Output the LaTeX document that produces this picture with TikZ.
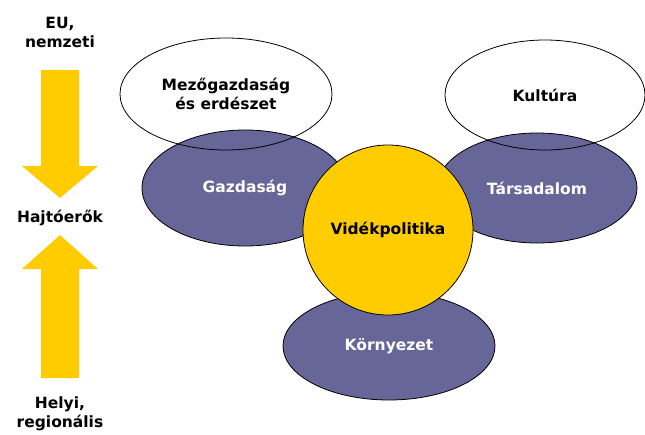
\documentclass[tikz,border=0pt]{standalone}
\usepackage{fontspec}
\setmainfont{DejaVu Sans}
\usetikzlibrary{shapes.geometric}

\definecolor{lila}{RGB}{102,102,153}
\definecolor{sarga}{RGB}{255,204,0}

\begin{document}
\begin{tikzpicture}[x=1pt,y=-1pt,
  every node/.style={font=\fontsize{15.5}{19}\selectfont\bfseries,align=center},
  tereny/.style={ellipse,draw,line width=0.8pt,fill=lila,text=white,inner sep=0pt},
  agazat/.style={ellipse,draw,line width=0.8pt,inner sep=0pt},
  nyil/.style={fill=sarga,draw=none}]
			\useasboundingbox (0,0) rectangle (645,434);
			
			% purple areas
			\node[tereny,minimum width=206pt,minimum height=116pt] (gazd) at (245,188) {Gazdaság};
			\node[tereny,minimum width=200pt,minimum height=110pt] (tars) at (537,188) {Társadalom};
			\node[tereny,minimum width=212pt,minimum height=108pt] (korny) at (389,346) {Környezet};
			
			% white ellipses, outline only
			\node[agazat,minimum width=212pt,minimum height=112pt] (mezo) at (226,94) {Mezőgazdaság\\és erdészet};
			\node[agazat,minimum width=200pt,minimum height=110pt] (kult) at (545,95) {Kultúra};
			
			\node[circle,draw,line width=0.8pt,fill=sarga,minimum size=170pt,inner sep=0pt] (videk) at (388,230) {Vidékpolitika};
			
			% driving forces
			\node (eu) at (60,32) {EU,\\nemzeti};
			\node (hajto) at (60,218) {Hajtóerők};
			\node (helyi) at (60,414) {Helyi,\\regionális};
			
			\fill[nyil] (41,70) -- (79,70) -- (79,166) -- (98,166) -- (60,198) -- (22,166) -- (41,166) -- cycle;
			\fill[nyil] (41,378) -- (79,378) -- (79,269) -- (98,269) -- (60,235) -- (22,269) -- (41,269) -- cycle;
\end{tikzpicture}
\end{document}
